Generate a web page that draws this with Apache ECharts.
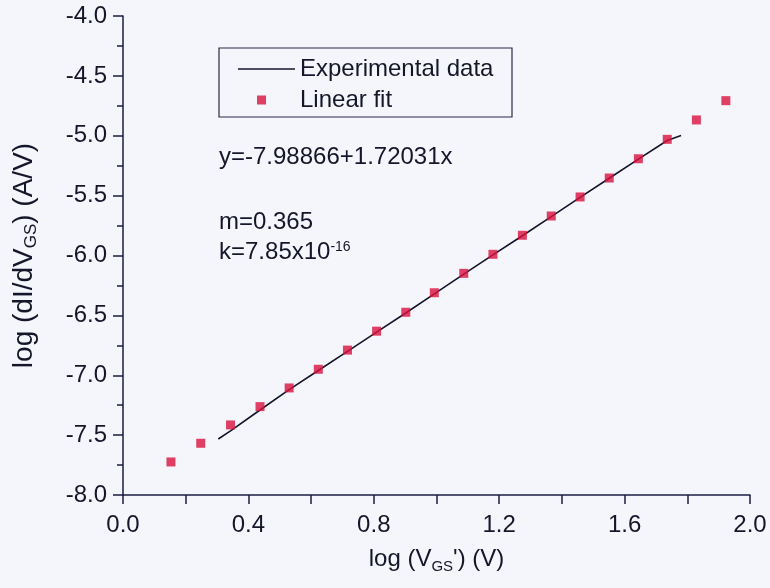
<!DOCTYPE html>
<html>
<head>
<meta charset="utf-8">
<script src="https://cdn.jsdelivr.net/npm/echarts@6/dist/echarts.min.js"></script>
<style>
html,body{margin:0;padding:0;background:#f4f6fb;}
#c{width:770px;height:588px;}
</style>
</head>
<body>
<div id="c"></div>
<script>
// Linear fit (square markers)
const fitX = [0.153, 0.248, 0.343, 0.437, 0.530, 0.623, 0.716, 0.809, 0.902, 0.993,
              1.087, 1.180, 1.274, 1.366, 1.458, 1.551, 1.644, 1.736, 1.829, 1.923];
const fitY = [-7.724, -7.568, -7.415, -7.262, -7.106, -6.950, -6.790, -6.632, -6.474, -6.311,
              -6.149, -5.990, -5.831, -5.670, -5.511, -5.353, -5.192, -5.030, -4.868, -4.707];
// Experimental data (line)
const expX = [0.304, 0.343, 0.437, 0.530, 0.623, 0.716, 0.809, 0.902, 0.993, 1.087,
              1.180, 1.274, 1.366, 1.458, 1.551, 1.644, 1.736, 1.780];
const expY = [-7.532, -7.465, -7.290, -7.120, -6.960, -6.800, -6.640, -6.480, -6.320, -6.155,
              -5.995, -5.835, -5.675, -5.515, -5.355, -5.195, -5.040, -4.998];

const xMin = 0.0, xMax = 2.0, xStep = 0.4;
const yMin = -8.0, yMax = -4.0, yStep = 0.5;

const FONT = '"Liberation Sans", Arial, sans-serif';
const TXT = '#16162a';
const AX = '#1c1c44';

const chart = echarts.init(document.getElementById('c'));
chart.setOption({
  backgroundColor: '#f4f6fb',
  animation: false,
  grid: {left: 123, right: 20, top: 16, bottom: 93, containLabel: false},
  xAxis: {
    type: 'value', min: xMin, max: xMax, interval: xStep,
    axisLine: {show: true, onZero: false, lineStyle: {color: AX, width: 1.5}},
    axisTick: {show: true, length: 9, lineStyle: {color: AX, width: 1.5}},
    minorTick: {show: true, splitNumber: 2, length: 9, lineStyle: {color: AX, width: 1.5}},
    splitLine: {show: false},
    axisLabel: {margin: 18, fontSize: 24, color: TXT, fontFamily: FONT,
                formatter: v => v.toFixed(1)},
    name: 'log (V{sub|GS}\') (V)',
    nameLocation: 'middle', nameGap: 64,
    nameTextStyle: {
      fontSize: 24, color: TXT, fontFamily: FONT, lineHeight: 30, verticalAlign: 'middle',
      rich: {
        sub: {fontSize: 15, lineHeight: 14, verticalAlign: 'bottom', color: TXT, fontFamily: FONT}
      }
    }
  },
  yAxis: {
    type: 'value', min: yMin, max: yMax, interval: yStep,
    axisLine: {show: true, onZero: false, lineStyle: {color: AX, width: 1.5}},
    axisTick: {show: true, length: 10, lineStyle: {color: AX, width: 1.5}},
    minorTick: {show: true, splitNumber: 2, length: 6, lineStyle: {color: AX, width: 1.5}},
    splitLine: {show: false},
    axisLabel: {margin: 16, fontSize: 24, color: TXT, fontFamily: FONT,
                formatter: v => v.toFixed(1)},
    name: 'log (dI/dV{sub|GS}) (A/V)',
    nameLocation: 'middle', nameGap: 99, nameRotate: 90,
    nameTextStyle: {
      fontSize: 28, color: TXT, fontFamily: FONT, lineHeight: 32, verticalAlign: 'middle',
      rich: {
        sub: {fontSize: 17, lineHeight: 15, verticalAlign: 'bottom', color: TXT, fontFamily: FONT}
      }
    }
  },
  legend: [
    {
      data: [{name: 'Experimental data', icon: 'rect'}],
      left: 238, top: 57, itemWidth: 57, itemHeight: 1.6,
      textStyle: {fontSize: 24, color: TXT, fontFamily: FONT},
      padding: 0
    },
    {
      data: ['Linear fit'],
      left: 257, top: 88, itemWidth: 9, itemHeight: 9,
      textStyle: {fontSize: 24, color: TXT, fontFamily: FONT, padding: [0, 0, 0, 29]},
      padding: 0
    }
  ],
  graphic: [
    {type: 'rect', shape: {x: 219, y: 48, width: 293, height: 69},
     style: {fill: 'none', stroke: '#2a2a44', lineWidth: 1.2}, silent: true},
    {type: 'text', left: 219, top: 145,
     style: {text: 'y=-7.98866+1.72031x', font: '24px ' + FONT, fill: TXT}},
    {type: 'text', left: 219, top: 210,
     style: {text: 'm=0.365', font: '24px ' + FONT, fill: TXT}},
    {type: 'text', left: 219, top: 240,
     style: {
       text: 'k=7.85x10{sup|-16}', font: '24px ' + FONT, fill: TXT,
       rich: {sup: {fontSize: 14, verticalAlign: 'top', lineHeight: 14, fill: TXT, fontFamily: FONT}}
     }}
  ],
  series: [
    {
      name: 'Experimental data', type: 'line', symbol: 'none',
      data: expX.map((x, i) => [x, expY[i]]),
      lineStyle: {color: '#14142a', width: 1.6},
      itemStyle: {color: '#14142a'},
      z: 2
    },
    {
      name: 'Linear fit', type: 'scatter', symbol: 'rect', symbolSize: 9,
      data: fitX.map((x, i) => [x, fitY[i]]),
      itemStyle: {color: '#d9123f'},
      z: 3
    }
  ]
});
</script>
</body>
</html>
